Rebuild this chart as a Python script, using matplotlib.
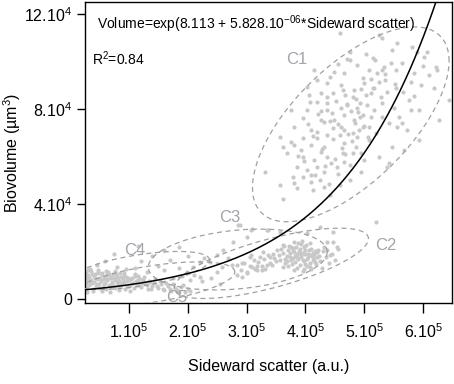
import numpy as np
import matplotlib
matplotlib.use("Agg")
import matplotlib.pyplot as plt

plt.rcParams['font.family'] = ['Liberation Sans', 'DejaVu Sans']
plt.rcParams['mathtext.fontset'] = 'custom'
plt.rcParams['mathtext.rm'] = 'Liberation Sans'
plt.rcParams['mathtext.it'] = 'Liberation Sans'
plt.rcParams['mathtext.bf'] = 'Liberation Sans:bold'

# ---- data (x and y in thousands) ----
c1_x = [458, 415, 449, 466, 420, 402, 437, 461, 463, 427, 436, 446, 407, 419, 436, 376, 403, 437, 461, 470,
        395, 427, 432, 449, 381, 410, 419, 446, 461, 466, 356, 376, 395, 420, 436, 458, 361, 381, 410, 432,
        466, 369, 393, 427, 437, 463, 395, 415, 444, 466, 331, 385, 402, 419, 432, 453, 378, 395, 410, 424,
        356, 381, 410, 432, 412, 361, 386,
        525, 530, 475, 556, 547, 581, 590, 607, 602, 514, 546, 564, 554, 530, 508, 622, 624, 585, 597, 580,
        497, 500, 525, 539, 514, 512, 529, 554, 480, 488, 492, 505, 517, 530, 530, 551, 576, 580, 559, 564,
        556, 619, 483, 492, 512, 497, 508, 520, 542, 480, 488, 486, 495, 480, 525, 547, 573, 542, 539, 495,
        520, 644, 475, 483, 466, 508, 500, 475, 458, 441, 475, 593, 610, 627, 568, 593,
        445, 452, 468, 478, 486, 494, 503, 511, 522, 534, 426, 441, 455, 471, 489, 499, 517, 535, 412, 428,
        447, 462, 479, 491, 506, 433, 450, 468, 484, 498, 398, 417, 440, 456, 472, 405, 422, 441, 388, 406,
        455, 470, 488, 503, 518, 536, 552, 566, 584, 600]
c1_y = [112.0, 96.4, 95.6, 95.2, 92.2, 89.3, 91.0, 90.1, 88.0, 86.8, 85.1, 86.8, 83.0, 83.0, 82.5, 79.6, 79.6, 79.6, 80.4, 81.7,
        76.2, 75.4, 74.5, 75.4, 72.4, 71.2, 70.3, 72.0, 72.4, 71.2, 68.2, 66.1, 67.8, 67.8, 69.1, 69.1, 64.0, 64.9, 64.9, 64.0,
        65.7, 61.5, 62.8, 61.9, 59.8, 61.5, 59.8, 58.5, 57.3, 57.7, 53.5, 55.6, 54.3, 55.6, 53.5, 55.6, 51.4, 51.4, 52.2, 50.1,
        48.0, 48.9, 49.3, 47.2, 45.9, 42.1, 46.8,
        111.2, 109.9, 104.0, 107.8, 104.9, 106.1, 104.0, 104.0, 101.9, 101.5, 99.4, 99.4, 96.4, 96.4, 96.4, 97.7, 96.4, 95.2, 90.1, 91.4,
        93.1, 91.0, 91.4, 87.2, 88.9, 86.8, 85.1, 88.9, 85.1, 80.4, 82.5, 81.7, 79.6, 82.5, 76.6, 80.4, 83.8, 79.6, 76.6, 74.1,
        72.4, 88.9, 75.4, 76.6, 76.6, 72.4, 72.4, 69.9, 74.1, 69.9, 68.2, 64.0, 61.5, 61.5, 59.8, 64.0, 71.2, 57.3, 55.6, 53.5,
        32.4, 83.8, 100.6, 88.0, 77.5, 67.0, 58.5, 56.4, 48.0, 43.8, 50.1, 79.6, 94.3, 75.4, 62.8, 67.0,
        78.2, 83.5, 86.0, 79.0, 84.2, 88.5, 86.0, 92.5, 95.0, 97.5, 79.0, 75.0, 73.5, 82.0, 78.5, 73.0, 89.0, 92.0, 68.5, 63.0,
        67.5, 63.5, 66.5, 71.0, 68.0, 56.0, 59.0, 61.0, 74.0, 77.5, 58.0, 52.0, 48.5, 52.5, 69.5, 73.5, 78.0, 93.5, 60.0, 86.0,
        99.0, 101.0, 98.5, 103.0, 100.5, 94.5, 90.5, 87.0, 85.5, 98.0]

c2_x = [285, 310, 336, 356, 403, 424, 437, 446, 453, 420, 441, 410, 407, 361, 327, 293, 361, 378, 390, 373,
        356, 339, 322, 305, 283, 310, 446,
        372, 378, 384, 390, 395, 400, 405, 410, 415, 420, 368, 375, 382, 388, 393, 398, 403, 408, 413, 418,
        362, 366, 371, 377, 385, 391, 397, 402, 409, 425, 380, 387, 394, 401, 407, 359, 355, 350, 345, 340,
        335, 330, 326, 320, 315, 312, 305, 300, 296, 290, 430, 435, 440, 428, 445, 450, 455, 432,
        374, 381, 386, 392, 397, 404, 411, 416, 370, 379, 389, 396, 406, 414, 365, 376, 383, 399, 412, 422,
        369, 386, 400, 417, 364, 352, 347, 337, 332, 318, 343, 328, 308, 423, 437, 380, 395, 392]
c2_y = [31.2, 29.5, 29.1, 28.2, 27.8, 30.3, 24.0, 24.0, 21.9, 19.8, 18.5, 18.5, 13.5, 13.5, 12.2, 9.3, 22.8, 21.5, 19.4, 17.7,
        16.4, 17.7, 17.7, 17.7, 14.3, 13.5, 28.2,
        22.5, 20.8, 22.0, 21.0, 19.5, 20.5, 18.8, 21.2, 19.0, 17.5, 18.0, 16.5, 18.2, 16.8, 17.5, 15.8, 16.9, 15.2, 16.4, 14.9,
        19.5, 15.2, 13.8, 14.6, 13.2, 14.1, 12.8, 13.9, 12.5, 16.0, 24.0, 23.5, 24.2, 22.8, 23.6, 21.0, 18.5, 16.0, 19.0, 15.0,
        14.5, 17.0, 14.0, 15.5, 12.5, 16.2, 14.0, 11.0, 15.0, 12.0, 20.0, 17.5, 15.0, 13.0, 19.0, 16.5, 21.0, 22.0,
        19.2, 19.6, 19.0, 18.4, 21.8, 17.6, 18.0, 20.2, 20.6, 17.2, 20.0, 16.2, 20.8, 17.4, 17.0, 21.8, 15.4, 18.9, 19.4, 20.4,
        15.8, 17.8, 14.6, 15.6, 22.2, 20.5, 17.4, 18.4, 12.6, 13.8, 14.2, 19.8, 18.6, 18.2, 20.6, 12.0, 11.8, 23.0]

c3_x = [288, 308, 335, 300, 277, 260, 249, 237, 220, 209, 198, 259, 276, 293, 300, 317, 283, 249, 220, 203,
        228, 268]
c3_y = [31.2, 29.1, 29.1, 26.0, 24.0, 20.6, 18.5, 15.6, 15.6, 13.5, 11.4, 13.5, 14.3, 15.2, 11.4, 12.2, 10.1, 11.4, 9.3, 8.0,
        17.3, 17.3]

c45_x = [27, 27, 27, 30, 30, 32, 33, 35, 36, 38, 40, 41, 43, 44, 46, 48, 49, 51, 53, 55, 56, 58, 60, 62, 63,
         65, 67, 69, 71, 73, 75, 77, 79, 81, 83, 85, 87, 90, 92, 95, 97, 100, 103, 106, 109, 112, 115, 118, 121,
         124, 128, 132, 136, 140, 145, 150, 155, 160, 166, 172, 178, 185, 192, 200,
         45, 60, 80, 95, 110, 120, 130, 150, 160, 170, 185, 140, 115, 160, 185, 75, 200, 210, 225, 240, 255, 190, 175,
         28, 29, 31, 34, 37, 39, 42, 45, 47, 50, 52, 54, 57, 59, 61, 64, 66, 68, 70, 72, 74, 76, 78, 80,
         82, 84, 86, 88, 91, 93, 96, 98, 101, 104, 107, 110, 113, 116, 119, 122, 126, 130, 134, 138, 143,
         148, 153, 158, 163, 169, 175, 182, 188, 196, 204, 29, 34, 39, 47, 54, 61, 68, 76, 84, 92, 102, 111]
c45_y = [11.0, 8.5, 6.5, 10.0, 7.8, 9.2, 5.8, 11.8, 8.0, 6.8, 9.8, 7.2, 10.5, 5.5, 8.3, 11.2, 6.3, 9.0, 7.5, 10.2, 5.2, 8.6, 6.8, 9.9, 7.8,
         11.5, 6.0, 8.8, 7.1, 10.3, 5.6, 8.1, 9.6, 6.5, 7.7, 10.8, 5.9, 8.4, 7.0, 9.3, 5.4, 7.9, 6.2, 8.7, 4.8, 7.4, 9.6, 6.0, 5.0,
         8.0, 6.6, 4.4, 7.2, 5.5, 8.3, 4.8, 6.1, 3.9, 5.4, 3.2, 4.7, 2.8, 5.8, 4.0,
         14.5, 15.8, 13.5, 12.8, 13.2, 16.0, 11.5, 14.0, 12.0, 16.5, 13.0, 18.0, 22.5, 20.5, 22.0, 19.0, 18.0, 10.0, 7.5, 9.0, 6.5, 9.5, 8.8,
         9.6, 4.8, 12.2, 6.9, 10.4, 4.4, 8.9, 6.4, 10.9, 4.6, 8.1, 11.0, 6.1, 9.4, 4.2, 8.6, 10.7, 5.0, 9.2, 6.4, 8.9, 4.5, 10.4, 7.2,
         8.8, 5.3, 9.2, 6.8, 10.0, 4.3, 7.5, 9.0, 5.5, 8.2, 6.6, 9.8, 5.7, 7.8, 8.4, 6.7, 9.2, 5.8, 7.7, 4.0, 6.8,
         5.6, 7.4, 4.4, 6.9, 4.0, 6.2, 3.6, 5.0, 2.9, 3.3, 3.0, 12.6, 3.2, 12.4, 3.4, 11.8, 3.1, 11.6, 3.6, 10.9, 3.2, 10.6]

# cluster ellipses: centre, half-ranges (thousands) and correlation
ell_names = ['C1', 'C2', 'C3', 'C4', 'C5']
ell_cx = [477, 342, 285, 118, 140]
ell_cy = [73.5, 15.0, 16.6, 12.0, 6.3]
ell_rx = [167, 165, 152, 119, 140]
ell_ry = [41, 14.8, 12.8, 8.0, 9.3]
ell_rho = [0.65, 0.70, 0.25, 0.55, 0.55]
lab_x = [386, 537, 271, 110, 181]
lab_y = [100.6, 22.7, 34.1, 20.5, 0.8]

fit_a = 8.113
fit_b = 5.828e-6
r2 = 0.84

xticks = [1e5, 2e5, 3e5, 4e5, 5e5, 6e5]
xtick_labels = [r'$\mathregular{1.10^5}$', r'$\mathregular{2.10^5}$', r'$\mathregular{3.10^5}$',
                r'$\mathregular{4.10^5}$', r'$\mathregular{5.10^5}$', r'$\mathregular{6.10^5}$']
yticks = [0, 4e4, 8e4, 12e4]
ytick_labels = ['0', r'$\mathregular{4.10^4}$', r'$\mathregular{8.10^4}$', r'$\mathregular{12.10^4}$']

K = 1000.0

fig = plt.figure(figsize=(4.54, 3.84), dpi=100)
ax = fig.add_axes([85/454, 81/384, 367/454, 301/384])

pt_col = '#c8c8c8'
for xs, ys in [(c45_x, c45_y), (c3_x, c3_y), (c2_x, c2_y), (c1_x, c1_y)]:
    ax.scatter(np.array(xs) * K, np.array(ys) * K, s=9, color=pt_col, marker='o', linewidths=0, zorder=2)

t = np.linspace(0, 2 * np.pi, 300)
for i in range(len(ell_names)):
    phi = np.arccos(ell_rho[i])
    ex = (ell_cx[i] + ell_rx[i] * np.cos(t)) * K
    ey = (ell_cy[i] + ell_ry[i] * np.cos(t - phi)) * K
    ax.plot(ex, ey, color='#a0a0a0', lw=0.9, dashes=(4, 3), zorder=3)
    ax.text(lab_x[i] * K, lab_y[i] * K, ell_names[i], color='#a2a4aa', fontsize=12,
            ha='center', va='center', zorder=4)

xmin, xmax = 25400, 649000
ymin, ymax = -1700, 125000
xc = np.linspace(xmin, xmax, 400)
ax.plot(xc, np.exp(fit_a + fit_b * xc), color='black', lw=1.1, zorder=5)

ax.set_xlim(xmin, xmax)
ax.set_ylim(ymin, ymax)
ax.set_xticks(xticks)
ax.set_xticklabels(xtick_labels, fontsize=11.5)
ax.set_yticks(yticks)
ax.set_yticklabels(ytick_labels, fontsize=11.5)
ax.tick_params(axis='x', direction='out', length=7, width=1, pad=7)
ax.tick_params(axis='y', direction='out', length=6, width=1, pad=3)
for sp in ax.spines.values():
    sp.set_linewidth(1.0)
    sp.set_color('black')

ax.text(0.033, 0.925, r'Volume=exp(8.113 + 5.828.10$^{\mathregular{-06}}$*Sideward scatter)',
        transform=ax.transAxes, fontsize=10, ha='left', va='center')
ax.text(0.018, 0.81, r'R$^{\mathregular{2}}$=%.2f' % r2, transform=ax.transAxes,
        fontsize=10, ha='left', va='center')

ax.set_xlabel('Sideward scatter (a.u.)', fontsize=11.5, labelpad=13)
ax.set_ylabel('Biovolume (µm$^{\\mathregular{3}}$)', fontsize=11.5, labelpad=1)

fig.savefig('out.png', dpi=100)
